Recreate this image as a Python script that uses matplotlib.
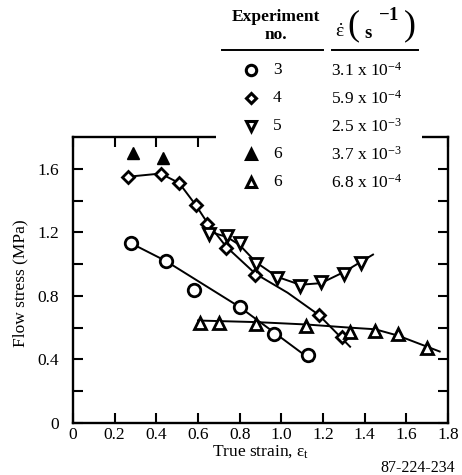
import matplotlib
matplotlib.use("Agg")
import matplotlib.pyplot as plt
from matplotlib.lines import Line2D
from matplotlib.patches import Rectangle

plt.rcParams['font.family'] = ['Liberation Serif', 'DejaVu Serif']
plt.rcParams['mathtext.fontset'] = 'custom'
plt.rcParams['mathtext.rm'] = 'Liberation Serif'
plt.rcParams['mathtext.it'] = 'Liberation Serif:italic'
plt.rcParams['mathtext.bf'] = 'Liberation Serif:bold'

# experiment 3 (open circles)
exp3_x = [0.28, 0.445, 0.58, 0.80, 0.965, 1.13]
exp3_y = [1.13, 1.02, 0.84, 0.73, 0.56, 0.43]
exp3_fit_x = [0.28, 0.445, 0.80, 0.965, 1.15]
exp3_fit_y = [1.13, 1.02, 0.73, 0.57, 0.39]

# experiment 4 (open diamonds)
exp4_x = [0.265, 0.42, 0.51, 0.59, 0.645, 0.735, 0.875, 1.18, 1.29]
exp4_y = [1.55, 1.57, 1.51, 1.37, 1.25, 1.10, 0.93, 0.68, 0.54]
exp4_fit_x = [0.265, 0.42, 0.51, 0.59, 0.645, 0.735, 0.875, 1.03, 1.18, 1.33]
exp4_fit_y = [1.55, 1.57, 1.51, 1.37, 1.26, 1.11, 0.94, 0.82, 0.68, 0.48]

# experiment 5 (open down triangles)
exp5_x = [0.655, 0.74, 0.80, 0.88, 0.98, 1.09, 1.19, 1.30, 1.38]
exp5_y = [1.19, 1.18, 1.13, 1.00, 0.91, 0.86, 0.89, 0.94, 1.01]
exp5_fit_x = [0.64, 0.74, 0.80, 0.88, 0.98, 1.09, 1.19, 1.30, 1.44]
exp5_fit_y = [1.21, 1.17, 1.12, 1.01, 0.92, 0.87, 0.88, 0.95, 1.06]

# experiment 6, 3.7e-3 (filled triangles)
exp6a_x = [0.29, 0.43]
exp6a_y = [1.70, 1.67]

# experiment 6, 6.8e-4 (open triangles)
exp6b_x = [0.61, 0.70, 0.88, 1.12, 1.33, 1.45, 1.56, 1.70]
exp6b_y = [0.63, 0.63, 0.62, 0.61, 0.57, 0.58, 0.56, 0.47]
exp6b_fit_x = [0.60, 0.88, 1.12, 1.33, 1.45, 1.56, 1.70, 1.76]
exp6b_fit_y = [0.645, 0.635, 0.62, 0.60, 0.59, 0.55, 0.48, 0.45]

legend_markers = ['o', 'D', 'v', '^', '^']
legend_fill = ['white', 'white', 'white', 'black', 'white']
legend_nums = ['3', '4', '5', '6', '6']
legend_rates = [r'3.1 x 10$^{-4}$', r'5.9 x 10$^{-4}$', r'2.5 x 10$^{-3}$',
                r'3.7 x 10$^{-3}$', r'6.8 x 10$^{-4}$']

W, H = 462, 475
fig = plt.figure(figsize=(W / 100, H / 100), dpi=100)
ax = fig.add_axes([73 / W, 1 - 423 / H, 375 / W, 286 / H])

lw = 1.4
mk = dict(color='black', mfc='white', mec='black', mew=2.0, ls='none', zorder=3)
ax.plot(exp3_fit_x, exp3_fit_y, color='black', lw=lw, zorder=2)
ax.plot(exp4_fit_x, exp4_fit_y, color='black', lw=lw, zorder=2)
ax.plot(exp5_fit_x, exp5_fit_y, color='black', lw=lw, zorder=2)
ax.plot(exp6b_fit_x, exp6b_fit_y, color='black', lw=lw, zorder=2)
ax.plot(exp3_x, exp3_y, marker='o', ms=9, **mk)
ax.plot(exp4_x, exp4_y, marker='D', ms=6.5, **mk)
ax.plot(exp5_x, exp5_y, marker='v', ms=9, **mk)
ax.plot(exp6b_x, exp6b_y, marker='^', ms=9, **mk)
ax.plot(exp6a_x, exp6a_y, marker='^', ms=9, color='black', ls='none', zorder=3)

ax.set_xlim(0, 1.8)
ax.set_ylim(0, 1.8)
xt = [0, 0.2, 0.4, 0.6, 0.8, 1.0, 1.2, 1.4, 1.6, 1.8]
ax.set_xticks(xt)
ax.set_xticklabels(['0', '0.2', '0.4', '0.6', '0.8', '1.0', '1.2', '1.4', '1.6', '1.8'])
ax.set_yticks([0, 0.4, 0.8, 1.2, 1.6])
ax.set_yticklabels(['0', '0.4', '0.8', '1.2', '1.6'])
ax.set_yticks([0.2, 0.6, 1.0, 1.4], minor=True)
ax.tick_params(which='both', direction='in', top=True, right=True,
               length=7, width=1.5, labelsize=12.5)
ax.tick_params(axis='x', pad=3)
ax.tick_params(axis='y', pad=10)
for s in ax.spines.values():
    s.set_linewidth(1.7)

ax.set_xlabel(r'True strain, $\mathrm{\epsilon}_\mathrm{t}$', fontsize=12.5, labelpad=0)
ax.set_ylabel('Flow stress (MPa)', fontsize=12.5)
ax.yaxis.set_label_coords(-0.12, 0.49)

# white patch hiding the top frame behind the legend table
fig.add_artist(Rectangle((216 / W, 1 - 150 / H), (422 - 216) / W, 150 / H,
                         transform=fig.transFigure, facecolor='white',
                         edgecolor='none', zorder=5))

fig.text(276 / W, 1 - 17 / H, 'Experiment', ha='center', va='center',
         fontsize=12.5, fontweight='bold', zorder=6)
fig.text(276 / W, 1 - 35 / H, 'no.', ha='center', va='center',
         fontsize=12.5, fontweight='bold', zorder=6)
# strain-rate header: dot-epsilon with tall parentheses around s^-1
fig.text(340 / W, 1 - 32 / H, r'$\dot{\mathrm{\epsilon}}$', ha='center',
         va='center', fontsize=14, zorder=6)
fig.text(353 / W, 1 - 26 / H, '(', ha='center', va='center', fontsize=26, zorder=6)
fig.text(368 / W, 1 - 33 / H, 's', ha='center', va='center', fontsize=13.5,
         fontweight='bold', zorder=6)
fig.text(389 / W, 1 - 15 / H, r'$\mathbf{-1}$', ha='center', va='center',
         fontsize=13.5, zorder=6)
fig.text(410 / W, 1 - 26 / H, ')', ha='center', va='center', fontsize=26, zorder=6)
fig.add_artist(Line2D([222 / W, 323 / W], [1 - 50 / H, 1 - 50 / H],
                      transform=fig.transFigure, color='black', lw=1.4, zorder=6))
fig.add_artist(Line2D([332 / W, 418 / W], [1 - 50 / H, 1 - 50 / H],
                      transform=fig.transFigure, color='black', lw=1.4, zorder=6))

row_y = [70, 98, 126, 154, 182]
for i in range(5):
    yy = 1 - row_y[i] / H
    fig.add_artist(Line2D([251 / W], [yy], transform=fig.transFigure,
                          marker=legend_markers[i],
                          ms=5.5 if legend_markers[i] == 'D' else 7.5,
                          mfc=legend_fill[i], mec='black', mew=2.2,
                          ls='none', zorder=6))
    fig.text(273 / W, yy, legend_nums[i], ha='left', va='center',
             fontsize=12.5, zorder=6)
    fig.text(331 / W, yy - 0.002, legend_rates[i], ha='left', va='center',
             fontsize=12.5, zorder=6)

fig.text(455 / W, 1 - 468 / H, '87-224-234', ha='right', va='center', fontsize=11.5)

fig.savefig('out.png', dpi=100)
